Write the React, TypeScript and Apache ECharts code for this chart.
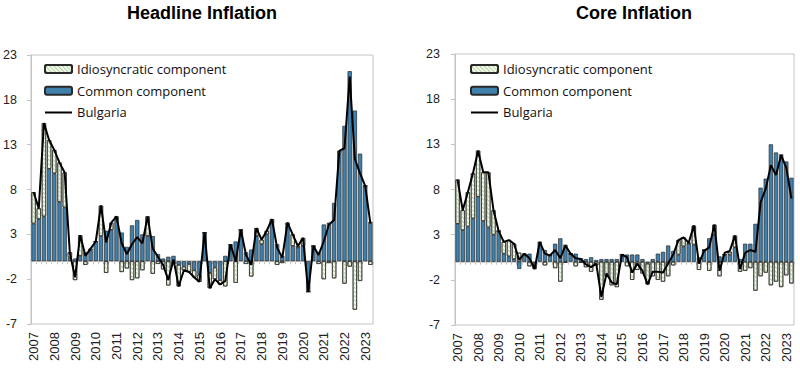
import React, { useEffect, useRef } from 'react';
import * as echarts from 'echarts';

const years = ['2007','2008','2009','2010','2011','2012','2013','2014','2015','2016','2017','2018','2019','2020','2021','2022','2023'];
const quarters = ['Q1','Q2','Q3','Q4'];
const categories = years.flatMap((y) => quarters.map((q) => y + q)).slice(0, 66);

const yTicks = [-7, -2, 3, 8, 13, 18, 23];

// Headline inflation
const headlineCommon = [4.2,4.7,5.0,10.3,9.8,6.6,6.0,0.4,0.3,0.6, 1.0,1.2,2.2,2.8,3.4,3.5,4.6,3.2,1.6,4.0, 4.6,3.0,2.8,2.8,0.8,0.3,0.5,0.6,-0.4,-0.6, -0.3,-1.0,-1.5,3.2,-1.3,-0.7,-2.1,0.6,1.7,2.2, 3.5,1.0,1.3,2.8,1.9,3.0,4.2,1.9,0.6,4.0, 1.7,1.5,1.7,-3.4,1.7,1.0,4.1,4.3,6.5,12.0, 15.1,21.2,16.8,12.0,8.4,4.4];
const headlineIdio = [3.5,1.2,10.4,3.2,2.6,4.4,3.9,0.6,-2.1,2.3, -0.4,0.2,0.0,3.4,-1.3,0.8,0.4,-1.2,-0.8,-2.1, -1.9,-1.0,2.2,-1.4,-0.3,-0.9,-2.7,-0.3,-2.4,-0.4, -0.9,-0.8,-0.8,0.0,-1.7,-1.3,-0.5,-2.8,0.2,-2.4, 0.0,-0.3,-1.7,0.9,0.5,0.4,0.5,-0.4,-0.2,0.3, 1.3,0.2,0.9,0.0,0.0,-0.3,-2.0,-0.2,-1.9,0.3, -2.5,-0.6,-5.4,-2.2,0.0,-0.4];
const headlineBulgaria = [7.7,5.9,15.4,13.5,12.4,11.0,9.9,0.9,-1.8,2.9, 0.6,1.4,2.2,6.2,2.1,4.3,5.0,2.0,0.8,1.9, 2.7,2.0,5.0,1.4,0.5,-0.4,-2.1,0.2,-2.8,-1.0, -1.2,-1.8,-2.3,3.2,-3.0,-2.0,-2.6,-2.2,1.9,0.0, 3.5,0.7,-0.4,3.7,2.4,3.4,4.7,1.5,0.4,4.3, 3.0,1.7,2.6,-3.4,1.7,0.7,2.2,4.1,4.6,12.3, 12.6,20.6,11.4,9.8,8.4,4.2];

// Core inflation
const coreCommon = [4.2,3.5,3.9,4.8,7.2,4.5,3.8,3.0,3.4,0.9, 0.6,0.3,-0.8,0.8,0.9,-0.3,2.0,1.3,0.7,2.0, 2.6,1.9,0.9,0.9,0.4,0.3,0.5,0.2,0.3,0.3, 0.3,0.3,0.8,0.8,0.8,0.8,0.3,-0.2,0.3,0.9, 1.1,1.8,1.2,0.8,1.7,2.0,1.9,0.5,1.3,2.6, 3.0,0.6,0.8,0.8,1.6,0.3,2.0,2.0,4.2,8.2, 9.2,13.0,12.1,11.9,11.1,9.3];
const coreIdio = [4.9,2.2,3.8,5.0,5.1,5.4,6.1,2.7,0.0,1.3, 1.8,1.7,1.0,0.1,-0.5,-0.5,0.2,-0.4,0.0,-0.7, -2.2,-0.1,0.0,-0.5,-0.1,-0.6,-1.1,-0.4,-4.2,-1.6, -2.6,-2.8,0.0,-0.5,-2.0,-0.9,-1.3,-2.3,-1.6,-2.0, -2.2,-1.6,-0.4,1.6,1.0,0.1,2.1,-0.9,0.0,-1.0, 1.1,-1.6,0.0,0.3,1.3,-1.1,-1.0,-0.7,-3.2,-1.6, -1.2,-2.6,-2.2,-2.8,-1.5,-2.4];
const coreBulgaria = [9.1,5.7,7.7,9.8,12.3,9.9,9.9,5.7,3.4,2.2, 2.4,2.0,0.2,0.9,0.4,-0.8,2.2,0.9,0.7,1.3, 0.4,1.8,0.9,0.4,0.3,-0.3,-0.6,-0.2,-3.9,-1.3, -2.3,-2.5,0.8,0.5,-1.2,-0.2,-1.0,-2.5,-1.1,-1.1, -1.2,-0.2,0.8,2.4,2.7,2.1,4.0,-0.2,1.2,1.6, 4.1,-1.0,1.0,1.2,2.9,-0.8,1.0,1.3,1.1,6.6, 8.1,10.7,9.6,11.8,10.4,7.0];

const titles = ['Headline Inflation', 'Core Inflation'];
const seriesNames = ['Idiosyncratic component', 'Common component', 'Bulgaria'];

const BLUE = '#3f80ad';
const HATCH_BG = '#f5faf0';
const HATCH_LINE = '#b3d39f';
const BORDER = '#2a2a2a';
const AXIS_GRAY = '#c3c3c3';
const AXIS_FONT = 'Liberation Sans, Arial, sans-serif';
const LINE_ICON = 'path://M0,3h27v2.2h-27z M0,0h0.01v8h-0.01z';

const panels = [
  { common: headlineCommon, idio: headlineIdio, line: headlineBulgaria,
    grid: { left: 31, right: 427, top: 55, bottom: 45 }, legend: { left: 44, top: 62 }, titleX: 202, labelMargin: 14 },
  { common: coreCommon, idio: coreIdio, line: coreBulgaria,
    grid: { left: 455, right: 6, top: 54, bottom: 44 }, legend: { left: 470, top: 62 }, titleX: 634, labelMargin: 15 },
];

function buildOption() {
  const grid: any[] = [];
  const xAxis: any[] = [];
  const yAxis: any[] = [];
  const series: any[] = [];
  const legend: any[] = [];
  const graphic: any[] = [];

  panels.forEach((p, k) => {
    grid.push({ ...p.grid, show: true, borderColor: AXIS_GRAY, borderWidth: 1, backgroundColor: 'transparent' });
    xAxis.push({
      type: 'category', gridIndex: k, data: categories, position: 'bottom',
      axisLine: { show: false, onZero: false },
      axisTick: { show: false },
      axisLabel: {
        interval: 3, rotate: 90, margin: 8, fontSize: 13, color: '#222', fontFamily: AXIS_FONT,
        formatter: (v: string) => v.slice(0, 4),
      },
      splitLine: { show: false },
    });
    xAxis.push({
      type: 'category', gridIndex: k, data: categories, position: 'bottom',
      axisLine: { show: true, onZero: true, lineStyle: { color: AXIS_GRAY, width: 1.5 } },
      axisTick: { show: true, interval: 0, length: 3, lineStyle: { color: AXIS_GRAY } },
      axisLabel: { show: false },
      splitLine: { show: false },
    });
    yAxis.push({
      type: 'value', gridIndex: k, min: -7, max: 23,
      axisLine: { show: true, lineStyle: { color: AXIS_GRAY } },
      axisTick: { show: true, length: 4, customValues: yTicks, lineStyle: { color: AXIS_GRAY } },
      axisLabel: { customValues: yTicks, margin: p.labelMargin, fontSize: 12.5, color: '#222', fontFamily: AXIS_FONT },
      splitLine: { show: false },
    });
    series.push({
      name: 'Common component', type: 'bar', xAxisIndex: 2 * k, yAxisIndex: k, stack: 'c' + k,
      data: p.common, barCategoryGap: '18%',
      itemStyle: { color: BLUE, borderColor: BORDER, borderWidth: 0.7 },
    });
    series.push({
      name: 'Idiosyncratic component', type: 'bar', xAxisIndex: 2 * k, yAxisIndex: k, stack: 'c' + k,
      data: p.idio, barCategoryGap: '18%',
      itemStyle: {
        color: HATCH_BG, borderColor: BORDER, borderWidth: 0.7,
        decal: { symbol: 'rect', symbolSize: 1, dashArrayX: [1, 0], dashArrayY: [1, 2], rotation: Math.PI / 4, color: HATCH_LINE },
      },
    });
    series.push({
      name: 'Bulgaria', type: 'line', xAxisIndex: 2 * k, yAxisIndex: k, data: p.line,
      symbol: 'none', showSymbol: false, z: 5,
      lineStyle: { color: '#000', width: 2 }, itemStyle: { color: '#000' },
    });
    legend.push({
      ...p.legend, orient: 'vertical', itemWidth: 27, itemHeight: 8, itemGap: 7.7, padding: 0,
      data: [
        seriesNames[0],
        seriesNames[1],
        { name: seriesNames[2], icon: LINE_ICON, itemStyle: { color: '#000', borderWidth: 0 } },
      ],
      selectedMode: false,
      textStyle: { fontSize: 13, lineHeight: 14, color: '#111', fontFamily: 'Open Sans, sans-serif' },
    });
    graphic.push({
      type: 'text', x: p.titleX, y: 13,
      style: { text: titles[k], fill: '#000', font: 'bold 18px Liberation Sans, Arial, sans-serif', align: 'center', verticalAlign: 'middle', textAlign: 'center', textVerticalAlign: 'middle' },
    });
  });

  return { animation: false, backgroundColor: '#fff', grid, xAxis, yAxis, series, legend, graphic };
}

export default function App() {
  const ref = useRef<HTMLDivElement>(null);
  useEffect(() => {
    const chart = echarts.init(ref.current!, undefined, { renderer: 'svg' });
    chart.setOption(buildOption() as any);
    return () => chart.dispose();
  }, []);
  return <div ref={ref} style={{ position: 'fixed', left: 0, top: 0, width: 800, height: 369, background: '#fff' }} />;
}
